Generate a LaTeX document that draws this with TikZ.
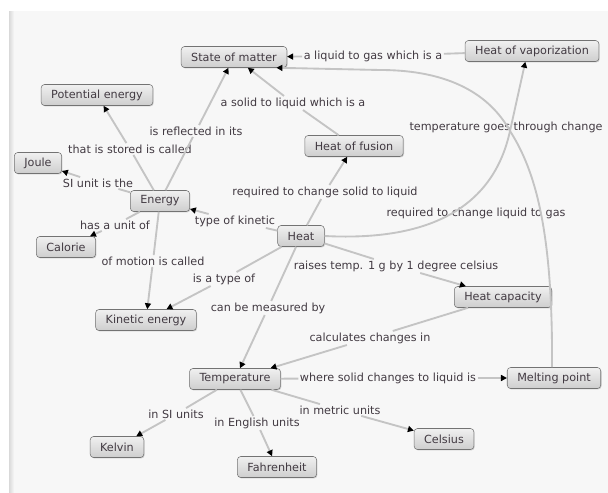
\documentclass[tikz,border=0pt]{standalone}
\usepackage{fontspec}
\setmainfont{DejaVu Sans}
\usetikzlibrary{arrows.meta,shadows}
\definecolor{panel}{RGB}{247,247,247}
\definecolor{linkgray}{RGB}{196,196,196}
\definecolor{boxtop}{RGB}{240,240,240}
\definecolor{boxbot}{RGB}{206,206,206}
\definecolor{txt}{RGB}{66,58,66}

\begin{document}
\begin{tikzpicture}[x=0.75pt,y=-0.75pt,
        concept/.style={draw=black!55, rounded corners=2.5pt, top color=boxtop,
            bottom color=boxbot, minimum height=15.75pt, inner xsep=7.5pt,
            inner ysep=0pt, text=txt, font=\fontsize{8.4}{10}\selectfont,
            drop shadow={opacity=0.35,shadow xshift=0.6pt,shadow yshift=-0.7pt}},
        phrase/.style={inner sep=1pt, text=txt, font=\fontsize{8.4}{10}\selectfont},
        link/.style={draw=linkgray, line width=1.4pt},
        arr/.style={link, -{Triangle[length=4.5pt,width=4.5pt,color=black]}}]
\useasboundingbox (0,0) rectangle (608,493);
\fill[white] (0,0) rectangle (608,493);
\fill[panel] (9,11) rectangle (608,493);
\fill[left color=black!15, right color=panel] (9,11) rectangle (14,493);

\node[concept] (som) at (234,57) {State of matter};
\node[concept] (hov) at (532,51) {Heat of vaporization};
\node[concept] (pe) at (97,95) {Potential energy};
\node[concept] (hof) at (354,146) {Heat of fusion};
\node[concept] (joule) at (38,163) {Joule};
\node[concept] (energy) at (160,201) {Energy};
\node[concept] (heat) at (301,236) {Heat};
\node[concept] (calorie) at (66,247) {Calorie};
\node[concept] (hcap) at (503,297) {Heat capacity};
\node[concept] (ke) at (146,320) {Kinetic energy};
\node[concept] (temp) at (235,379) {Temperature};
\node[concept] (mp) at (554,378) {Melting point};
\node[concept] (kelvin) at (117,447) {Kelvin};
\node[concept] (celsius) at (444,439) {Celsius};
\node[concept] (fahr) at (277,467) {Fahrenheit};

\node[phrase] (liqgas) at (373,56) {a liquid to gas which is a};
\node[phrase] (solliq) at (293,103) {a solid to liquid which is a};
\node[phrase] (reflect) at (196,131) {is reflected in its};
\node[phrase] (stored) at (130,149) {that is stored is called};
\node[phrase] (siunit) at (98,183) {SI unit is the};
\node[phrase] (hasunit) at (115,225) {has a unit of};
\node[phrase] (motion) at (153,261) {of motion is called};
\node[phrase] (typekin) at (235,221) {type of kinetic};
\node[phrase] (typeof) at (224,279) {is a type of};
\node[phrase] (reqsol) at (325,192) {required to change solid to liquid};
\node[phrase] (raises) at (396,266) {raises temp. 1 g by 1 degree celsius};
\node[phrase] (measured) at (268,308) {can be measured by};
\node[phrase] (calc) at (370,338) {calculates changes in};
\node[phrase] (where) at (388,378) {where solid changes to liquid is};
\node[phrase] (insi) at (176,414) {in SI units};
\node[phrase] (ineng) at (257,423) {in English units};
\node[phrase] (inmet) at (340,410) {in metric units};
\node[phrase] (goes) at (506,127) {temperature goes through change};
\node[phrase] (reqliq) at (476,213) {required to change liquid to gas};
\coordinate (jn) at (510,131);

\draw[link] (hov) -- (liqgas);
\draw[arr] (liqgas) -- (som);
\draw[link] (hof) -- (solliq);
\draw[arr] (solliq) -- (som);
\draw[link] (energy) -- (reflect);
\draw[arr] (reflect) -- (som);
\draw[link] (energy) -- (stored);
\draw[arr] (stored) -- (pe);
\draw[link] (energy) -- (siunit);
\draw[arr] (siunit) -- (joule);
\draw[link] (energy) -- (hasunit);
\draw[arr] (hasunit) -- (calorie);
\draw[link] (energy) -- (motion);
\draw[arr] (motion) -- (ke);
\draw[link] (heat) -- (typekin);
\draw[arr] (typekin) -- (energy);
\draw[link] (heat) -- (typeof);
\draw[arr] (typeof) -- (ke);
\draw[link] (heat) -- (reqsol);
\draw[arr] (reqsol) -- (hof);
\draw[link] (heat) -- (raises);
\draw[arr] (raises) -- (hcap);
\draw[link] (heat) -- (measured);
\draw[arr] (measured) -- (temp);
\draw[link] (hcap) -- (calc);
\draw[arr] (calc) -- (temp);
\draw[link] (temp) -- (where);
\draw[arr] (where) -- (mp);
\draw[link] (temp) -- (insi);
\draw[arr] (insi) -- (kelvin);
\draw[link] (temp) -- (ineng);
\draw[arr] (ineng) -- (fahr);
\draw[link] (temp) -- (inmet);
\draw[arr] (inmet) -- (celsius);

\draw[link] (heat.east) .. controls (440,242) and (495,200) .. (jn);
\draw[arr] (jn) -- ([xshift=-5pt]hov.south);
\draw[arr] ([xshift=-1.5pt]mp.north) .. controls (553,230) and (535,170) .. (jn)
    .. controls (490,95) and (450,70) .. (380,70) -- ([xshift=-8pt]som.south east);

\end{tikzpicture}
\end{document}
